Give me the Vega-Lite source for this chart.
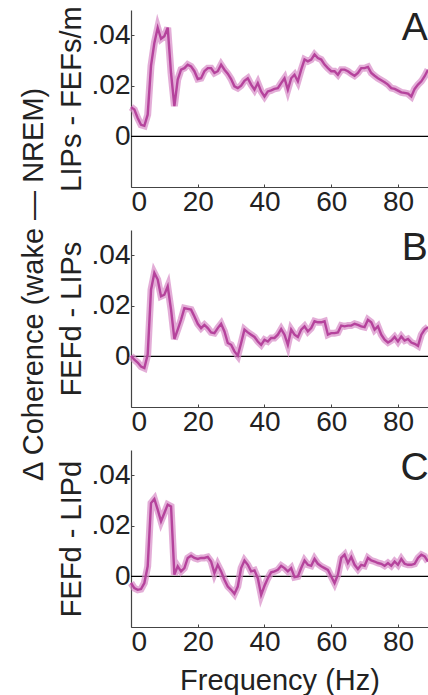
{
  "$schema": "https://vega.github.io/schema/vega-lite/v6.json",
  "padding": {"left": 19, "top": 5, "right": 0, "bottom": 0},
  "config": {
    "font": "Liberation Sans",
    "view": {"stroke": null},
    "axis": {
      "grid": false,
      "domainColor": "#444",
      "domainWidth": 1.2,
      "tickColor": "#444",
      "tickSize": -3,
      "labelFontSize": 28,
      "labelColor": "#222",
      "labelPadding": 4,
      "titleFontSize": 29,
      "titleFontWeight": "normal",
      "titleColor": "#222"
    }
  },
  "title": {
    "text": "Δ Coherence (wake — NREM)",
    "orient": "left",
    "anchor": "middle",
    "frame": "bounds",
    "fontSize": 29,
    "fontWeight": "normal",
    "color": "#222",
    "offset": 8,
    "dx": 66
  },
  "datasets": {
    "A": [
      {"f":0,"v":0.0116},{"f":1,"v":0.0106},{"f":2,"v":0.0073},{"f":3,"v":0.0046},{"f":4,"v":0.0042},{"f":5,"v":0.0086},{"f":6,"v":0.028},{"f":7,"v":0.037},{"f":8,"v":0.043},{"f":9,"v":0.0386},{"f":10,"v":0.0396},{"f":11,"v":0.043},{"f":12,"v":0.025},{"f":13,"v":0.012},{"f":14,"v":0.0225},{"f":15,"v":0.0264},{"f":16,"v":0.027},{"f":17,"v":0.0284},{"f":18,"v":0.0277},{"f":19,"v":0.0258},
      {"f":20,"v":0.0227},{"f":21,"v":0.023},{"f":22,"v":0.0258},{"f":23,"v":0.027},{"f":24,"v":0.027},{"f":25,"v":0.0251},{"f":26,"v":0.0258},{"f":27,"v":0.0284},{"f":28,"v":0.0264},{"f":29,"v":0.0248},{"f":30,"v":0.0227},{"f":31,"v":0.0198},{"f":32,"v":0.0191},{"f":33,"v":0.0201},{"f":34,"v":0.022},{"f":35,"v":0.023},{"f":36,"v":0.0205},{"f":37,"v":0.0185},{"f":38,"v":0.0211},{"f":39,"v":0.0178},
      {"f":40,"v":0.0158},{"f":41,"v":0.0178},{"f":42,"v":0.0182},{"f":43,"v":0.0188},{"f":44,"v":0.0191},{"f":45,"v":0.0211},{"f":46,"v":0.023},{"f":47,"v":0.0185},{"f":48,"v":0.023},{"f":49,"v":0.0244},{"f":50,"v":0.0218},{"f":51,"v":0.0264},{"f":52,"v":0.0304},{"f":53,"v":0.0297},{"f":54,"v":0.0304},{"f":55,"v":0.0324},{"f":56,"v":0.031},{"f":57,"v":0.0304},{"f":58,"v":0.0284},{"f":59,"v":0.027},
      {"f":60,"v":0.0258},{"f":61,"v":0.0258},{"f":62,"v":0.0244},{"f":63,"v":0.0264},{"f":64,"v":0.0264},{"f":65,"v":0.0258},{"f":66,"v":0.0248},{"f":67,"v":0.024},{"f":68,"v":0.0251},{"f":69,"v":0.027},{"f":70,"v":0.027},{"f":71,"v":0.0275},{"f":72,"v":0.0251},{"f":73,"v":0.024},{"f":74,"v":0.023},{"f":75,"v":0.0222},{"f":76,"v":0.0214},{"f":77,"v":0.0205},{"f":78,"v":0.0191},{"f":79,"v":0.0188},
      {"f":80,"v":0.0181},{"f":81,"v":0.0174},{"f":82,"v":0.0172},{"f":83,"v":0.0169},{"f":84,"v":0.0158},{"f":85,"v":0.0188},{"f":86,"v":0.0205},{"f":87,"v":0.0218},{"f":88,"v":0.0238},{"f":89,"v":0.0264}
    ],
    "B": [
      {"f":0,"v":0.0003},{"f":1,"v":-0.0013},{"f":2,"v":-0.0024},{"f":3,"v":-0.004},{"f":4,"v":-0.0046},{"f":5,"v":0.0007},{"f":6,"v":0.0264},{"f":7,"v":0.033},{"f":8,"v":0.0304},{"f":9,"v":0.0238},{"f":10,"v":0.0244},{"f":11,"v":0.0277},{"f":12,"v":0.0185},{"f":13,"v":0.0069},{"f":14,"v":0.0106},{"f":15,"v":0.0145},{"f":16,"v":0.0191},{"f":17,"v":0.0188},{"f":18,"v":0.0185},{"f":19,"v":0.0158},
      {"f":20,"v":0.0129},{"f":21,"v":0.0112},{"f":22,"v":0.0125},{"f":23,"v":0.0112},{"f":24,"v":0.0095},{"f":25,"v":0.0092},{"f":26,"v":0.0112},{"f":27,"v":0.0129},{"f":28,"v":0.0099},{"f":29,"v":0.0053},{"f":30,"v":0.0046},{"f":31,"v":0.002},{"f":32,"v":0.0003},{"f":33,"v":0.0053},{"f":34,"v":0.0106},{"f":35,"v":0.0095},{"f":36,"v":0.0086},{"f":37,"v":0.0077},{"f":38,"v":0.0059},{"f":39,"v":0.0046},
      {"f":40,"v":0.0066},{"f":41,"v":0.0059},{"f":42,"v":0.0073},{"f":43,"v":0.0073},{"f":44,"v":0.0086},{"f":45,"v":0.0108},{"f":46,"v":0.0086},{"f":47,"v":0.0046},{"f":48,"v":0.0106},{"f":49,"v":0.0086},{"f":50,"v":0.0077},{"f":51,"v":0.0106},{"f":52,"v":0.0119},{"f":53,"v":0.0099},{"f":54,"v":0.0112},{"f":55,"v":0.0139},{"f":56,"v":0.0135},{"f":57,"v":0.0135},{"f":58,"v":0.0139},{"f":59,"v":0.0086},
      {"f":60,"v":0.0092},{"f":61,"v":0.0092},{"f":62,"v":0.0095},{"f":63,"v":0.0122},{"f":64,"v":0.0119},{"f":65,"v":0.0122},{"f":66,"v":0.0122},{"f":67,"v":0.0129},{"f":68,"v":0.0125},{"f":69,"v":0.0119},{"f":70,"v":0.0116},{"f":71,"v":0.0145},{"f":72,"v":0.0135},{"f":73,"v":0.0106},{"f":74,"v":0.0119},{"f":75,"v":0.0086},{"f":76,"v":0.0066},{"f":77,"v":0.0055},{"f":78,"v":0.0063},{"f":79,"v":0.0077},
      {"f":80,"v":0.0059},{"f":81,"v":0.0079},{"f":82,"v":0.0063},{"f":83,"v":0.0069},{"f":84,"v":0.0055},{"f":85,"v":0.005},{"f":86,"v":0.0042},{"f":87,"v":0.0086},{"f":88,"v":0.0106},{"f":89,"v":0.0116}
    ],
    "C": [
      {"f":0,"v":-0.0026},{"f":1,"v":-0.0046},{"f":2,"v":-0.0053},{"f":3,"v":-0.005},{"f":4,"v":-0.0026},{"f":5,"v":0.004},{"f":6,"v":0.029},{"f":7,"v":0.0306},{"f":8,"v":0.0264},{"f":9,"v":0.0218},{"f":10,"v":0.0251},{"f":11,"v":0.0284},{"f":12,"v":0.0277},{"f":13,"v":0.0007},{"f":14,"v":0.004},{"f":15,"v":0.002},{"f":16,"v":0.0033},{"f":17,"v":0.0073},{"f":18,"v":0.0082},{"f":19,"v":0.0073},
      {"f":20,"v":0.0069},{"f":21,"v":0.0073},{"f":22,"v":0.0073},{"f":23,"v":0.0077},{"f":24,"v":0.0059},{"f":25,"v":0.0013},{"f":26,"v":0.0046},{"f":27,"v":0.002},{"f":28,"v":-0.0013},{"f":29,"v":-0.004},{"f":30,"v":-0.0053},{"f":31,"v":-0.0069},{"f":32,"v":-0.004},{"f":33,"v":0.0033},{"f":34,"v":0.0063},{"f":35,"v":0.0046},{"f":36,"v":0.002},{"f":37,"v":0.0024},{"f":38,"v":-0.0007},{"f":39,"v":-0.0073},
      {"f":40,"v":-0.0037},{"f":41,"v":-0.0007},{"f":42,"v":0.0016},{"f":43,"v":0.002},{"f":44,"v":0.0026},{"f":45,"v":0.0042},{"f":46,"v":0.0033},{"f":47,"v":0.002},{"f":48,"v":0.0033},{"f":49,"v":-0.0003},{"f":50,"v":0.0},{"f":51,"v":0.0033},{"f":52,"v":0.0063},{"f":53,"v":0.0046},{"f":54,"v":0.0042},{"f":55,"v":0.0069},{"f":56,"v":0.005},{"f":57,"v":0.004},{"f":58,"v":0.0033},{"f":59,"v":0.0026},
      {"f":60,"v":0.0},{"f":61,"v":-0.0026},{"f":62,"v":0.0007},{"f":63,"v":0.0073},{"f":64,"v":0.0086},{"f":65,"v":0.0053},{"f":66,"v":0.0077},{"f":67,"v":0.0046},{"f":68,"v":0.0029},{"f":69,"v":0.0046},{"f":70,"v":0.0042},{"f":71,"v":0.0073},{"f":72,"v":0.0063},{"f":73,"v":0.0059},{"f":74,"v":0.0053},{"f":75,"v":0.005},{"f":76,"v":0.0042},{"f":77,"v":0.0053},{"f":78,"v":0.0042},{"f":79,"v":0.0059},
      {"f":80,"v":0.0046},{"f":81,"v":0.0069},{"f":82,"v":0.005},{"f":83,"v":0.0046},{"f":84,"v":0.0046},{"f":85,"v":0.005},{"f":86,"v":0.0073},{"f":87,"v":0.0086},{"f":88,"v":0.0079},{"f":89,"v":0.0059}
    ]
  },
  "spacing": 43,
  "bounds": "flush",
  "vconcat": [
    {
      "width": 297, "height": 177,
      "data": {"name": "A"},
      "layer": [
        {"data": {"values": [{}]}, "mark": {"type": "rule", "color": "#000", "strokeWidth": 1.2}, "encoding": {"y": {"datum": 0}}},
        {"mark": {"type": "line", "color": "#d78ac6", "strokeWidth": 7, "opacity": 0.7},
         "encoding": {
           "x": {"field": "f", "type": "quantitative", "scale": {"domain": [0, 89], "nice": false}, "axis": {"values": [0, 20, 40, 60, 80], "title": null}},
           "y": {"field": "v", "type": "quantitative", "scale": {"domain": [-0.02, 0.05], "nice": false}, "axis": {"values": [0, 0.02, 0.04], "labelExpr": "datum.value == 0 ? '0' : replace(format(datum.value, '.2f'), '0.', '.')", "title": "LIPs - FEFs/m", "titleX": -51, "titleBaseline": "alphabetic"}}
         }},
        {"mark": {"type": "line", "color": "#b5439c", "strokeWidth": 2.4},
         "encoding": {"x": {"field": "f", "type": "quantitative"}, "y": {"field": "v", "type": "quantitative"}}},
        {"data": {"values": [{}]}, "mark": {"type": "text", "text": "A", "fontSize": 39, "color": "#222", "align": "center", "baseline": "middle"}, "encoding": {"x": {"datum": 85}, "y": {"datum": 0.0427}}}
      ]
    },
    {
      "width": 297, "height": 177,
      "data": {"name": "B"},
      "layer": [
        {"data": {"values": [{}]}, "mark": {"type": "rule", "color": "#000", "strokeWidth": 1.2}, "encoding": {"y": {"datum": 0}}},
        {"mark": {"type": "line", "color": "#d78ac6", "strokeWidth": 7, "opacity": 0.7},
         "encoding": {
           "x": {"field": "f", "type": "quantitative", "scale": {"domain": [0, 89], "nice": false}, "axis": {"values": [0, 20, 40, 60, 80], "title": null}},
           "y": {"field": "v", "type": "quantitative", "scale": {"domain": [-0.02, 0.05], "nice": false}, "axis": {"values": [0, 0.02, 0.04], "labelExpr": "datum.value == 0 ? '0' : replace(format(datum.value, '.2f'), '0.', '.')", "title": "FEFd - LIPs", "titleX": -51, "titleBaseline": "alphabetic"}}
         }},
        {"mark": {"type": "line", "color": "#b5439c", "strokeWidth": 2.4},
         "encoding": {"x": {"field": "f", "type": "quantitative"}, "y": {"field": "v", "type": "quantitative"}}},
        {"data": {"values": [{}]}, "mark": {"type": "text", "text": "B", "fontSize": 39, "color": "#222", "align": "center", "baseline": "middle"}, "encoding": {"x": {"datum": 85}, "y": {"datum": 0.0427}}}
      ]
    },
    {
      "width": 297, "height": 177,
      "data": {"name": "C"},
      "layer": [
        {"data": {"values": [{}]}, "mark": {"type": "rule", "color": "#000", "strokeWidth": 1.2}, "encoding": {"y": {"datum": 0}}},
        {"mark": {"type": "line", "color": "#d78ac6", "strokeWidth": 7, "opacity": 0.7},
         "encoding": {
           "x": {"field": "f", "type": "quantitative", "scale": {"domain": [0, 89], "nice": false}, "axis": {"values": [0, 20, 40, 60, 80], "title": "Frequency (Hz)", "titlePadding": 10}},
           "y": {"field": "v", "type": "quantitative", "scale": {"domain": [-0.02, 0.05], "nice": false}, "axis": {"values": [0, 0.02, 0.04], "labelExpr": "datum.value == 0 ? '0' : replace(format(datum.value, '.2f'), '0.', '.')", "title": "FEFd - LIPd", "titleX": -51, "titleBaseline": "alphabetic"}}
         }},
        {"mark": {"type": "line", "color": "#b5439c", "strokeWidth": 2.4},
         "encoding": {"x": {"field": "f", "type": "quantitative"}, "y": {"field": "v", "type": "quantitative"}}},
        {"data": {"values": [{}]}, "mark": {"type": "text", "text": "C", "fontSize": 39, "color": "#222", "align": "center", "baseline": "middle"}, "encoding": {"x": {"datum": 85}, "y": {"datum": 0.0427}}}
      ]
    }
  ]
}
